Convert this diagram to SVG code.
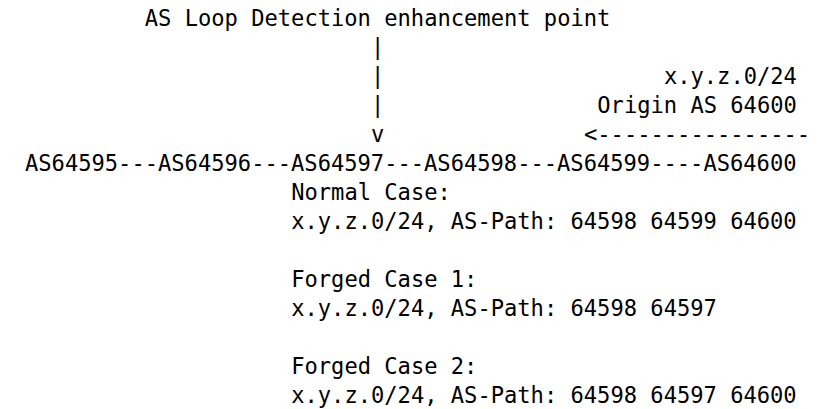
<svg xmlns="http://www.w3.org/2000/svg" width="821" height="409" viewBox="0 0 821 409">
<style>
text { font-family: "DejaVu Sans Mono", "Liberation Mono", monospace; font-size: 22.1px; fill: #000; white-space: pre; }
</style>
<rect width="821" height="409" fill="#fff"/>
<g id="title"><text x="144.8" y="26">AS Loop Detection enhancement point</text></g>
<g id="connectors">
<text x="371.1" y="55">|</text>
<text x="371.1" y="84">|</text>
<text x="371.1" y="113">|</text>
<text x="371.1" y="142">v</text>
<text x="584" y="142">&lt;----------------</text>
</g>
<g id="origin">
<text x="663.9" y="84">x.y.z.0/24</text>
<text x="597.3" y="113">Origin AS 64600</text>
</g>
<g id="as-chain"><text x="25" y="171">AS64595---AS64596---AS64597---AS64598---AS64599----AS64600</text></g>
<g id="normal-case">
<text x="291.2" y="200">Normal Case:</text>
<text x="291.2" y="229">x.y.z.0/24, AS-Path: 64598 64599 64600</text>
</g>
<g id="forged-case-1">
<text x="291.2" y="287">Forged Case 1:</text>
<text x="291.2" y="316">x.y.z.0/24, AS-Path: 64598 64597</text>
</g>
<g id="forged-case-2">
<text x="291.2" y="374">Forged Case 2:</text>
<text x="291.2" y="403">x.y.z.0/24, AS-Path: 64598 64597 64600</text>
</g>
</svg>
